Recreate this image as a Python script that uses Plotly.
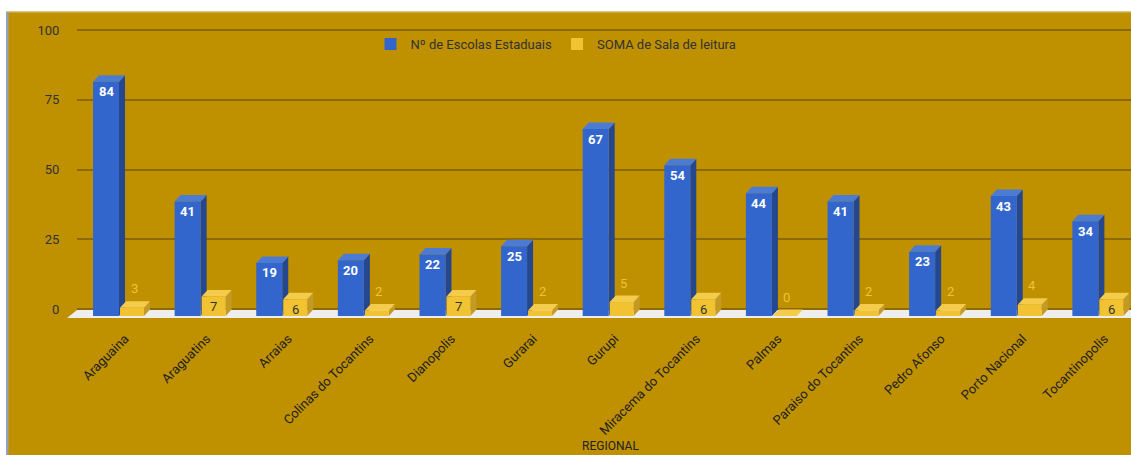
import plotly.graph_objects as go

# ---------------- data ----------------
regionais = ["Araguaina", "Araguatins", "Arraias", "Colinas do Tocantins", "Dianopolis",
             "Gurarai", "Gurupi", "Miracema do Tocantins", "Palmas", "Paraiso do Tocantins",
             "Pedro Afonso", "Porto Nacional", "Tocantinopolis"]
escolas = [84, 41, 19, 20, 22, 25, 67, 54, 44, 41, 23, 43, 34]
salas = [3, 7, 6, 2, 7, 2, 5, 6, 0, 2, 2, 4, 6]
y_ticks = [0, 25, 50, 75, 100]
serie_escolas = "Nº de Escolas Estaduais"
serie_salas = "SOMA de Sala de leitura"

# ---------------- layout constants ----------------
W, H = 1131, 455
ML, MR, MT, MB = 77, 0, 12, 135
PW, PH = W - ML - MR, H - MT - MB
x_range = [-0.515, 12.4]
PXX = PW / (x_range[1] - x_range[0])
back_range = [-3.943, 106.45]
PXY = PH / (back_range[1] - back_range[0])
shift = 7 / PXY
front_range = [back_range[0] + shift, back_range[1] + shift]
DX = 6 / PXX
DY = 6.5 / PXY

BLUE, BLUE_TOP, BLUE_SIDE = "#3366CC", "#4C7BD4", "#24478F"
YEL, YEL_TOP, YEL_SIDE = "#F1C232", "#F4CB4A", "#C29A25"
GOLD = "#BF9000"
GRID = "#8C6A00"
TXT = "#333333"

b_off, b_w = -26 / PXX, 26 / PXX
y_off, y_w = 1 / PXX, 24 / PXX

xs = list(range(len(regionais)))

fig = go.Figure()
fig.add_trace(go.Bar(x=xs, y=escolas, name=serie_escolas, marker_color=BLUE,
                     marker_line_width=0, offset=b_off, width=b_w, yaxis="y",
                     hoverinfo="skip"))
fig.add_trace(go.Bar(x=xs, y=salas, name=serie_salas, marker_color=YEL,
                     marker_line_width=0, offset=y_off, width=y_w, yaxis="y",
                     hoverinfo="skip"))

shapes = []


def px2paper_x(p):
    return (p - ML) / PW


def px2paper_y(p):
    return (MT + PH - p) / PH


# floor
floor_pts = [(67, 318), (77, 310), (W + 20, 310), (W + 20, 318)]
path = "M " + " L ".join(f"{px2paper_x(a)},{px2paper_y(b)}" for a, b in floor_pts) + " Z"
shapes.append(dict(type="path", xref="paper", yref="paper", layer="below", path=path,
                   fillcolor="#EEEEEE", line_width=0))


def faces(xl, xr, v, top_col, side_col):
    out = []
    out.append(dict(type="path", xref="x", yref="y", layer="between",
                    path=f"M {xr},0 L {xr},{v} L {xr+DX},{v+DY} L {xr+DX},{DY} Z",
                    fillcolor=side_col, line_width=0))
    out.append(dict(type="path", xref="x", yref="y", layer="between",
                    path=f"M {xl},{v} L {xl+DX},{v+DY} L {xr+DX},{v+DY} L {xr},{v} Z",
                    fillcolor=top_col, line_width=0))
    return out


for i, v in zip(xs, escolas):
    shapes += faces(i + b_off, i + b_off + b_w, v, BLUE_TOP, BLUE_SIDE)
for i, v in zip(xs, salas):
    shapes += faces(i + y_off, i + y_off + y_w, v, YEL_TOP, YEL_SIDE)

# white frame strips
shapes.append(dict(type="rect", xref="paper", yref="paper", layer="above",
                   x0=px2paper_x(-5), x1=px2paper_x(W + 5), y0=px2paper_y(11.5), y1=px2paper_y(-5),
                   fillcolor="white", line_width=0))
shapes.append(dict(type="rect", xref="paper", yref="paper", layer="above",
                   x0=px2paper_x(-5), x1=px2paper_x(6), y0=px2paper_y(H + 5), y1=px2paper_y(-5),
                   fillcolor="white", line_width=0))
shapes.append(dict(type="rect", xref="paper", yref="paper", layer="above",
                   x0=px2paper_x(6), x1=px2paper_x(8.5), y0=px2paper_y(H + 5), y1=px2paper_y(12),
                   fillcolor="#8FA3BC", line_width=0))
shapes.append(dict(type="line", xref="paper", yref="paper", layer="above",
                   x0=px2paper_x(8), x1=px2paper_x(W + 5), y0=px2paper_y(12), y1=px2paper_y(12),
                   line=dict(color="#D6C27A", width=1)))

# value labels
annotations = []
for i, v in zip(xs, escolas):
    annotations.append(dict(x=i + b_off + b_w / 2, y=v, xref="x", yref="y", text=str(v),
                            showarrow=False, yshift=-10,
                            font=dict(family="Roboto", size=13, color="white", weight="bold")))
for i, v in zip(xs, salas):
    inside = v >= 6
    annotations.append(dict(x=i + y_off + y_w / 2 + (0 if inside else 2 / PXX), y=v, xref="x", yref="y",
                            text=str(v), showarrow=False, yshift=-10 if inside else 19,
                            font=dict(family="Roboto", size=13, color=TXT if inside else YEL)))
annotations.append(dict(x=px2paper_x(610), y=px2paper_y(446), xref="paper", yref="paper",
                        text="REGIONAL", showarrow=False, xanchor="center", yanchor="middle",
                        font=dict(family="Roboto", size=12, color="#222222")))

fig.update_layout(
    width=W, height=H,
    margin=dict(l=ML, r=MR, t=MT, b=MB, pad=0),
    paper_bgcolor=GOLD, plot_bgcolor="rgba(0,0,0,0)",
    barmode="overlay",
    font=dict(family="Roboto", size=13, color=TXT),
    showlegend=True,
    legend=dict(orientation="h", x=px2paper_x(556), xanchor="center",
                y=px2paper_y(44), yanchor="middle", bgcolor="rgba(0,0,0,0)",
                font=dict(family="Roboto", size=13, color=TXT), traceorder="normal"),
    xaxis=dict(range=x_range, tickmode="array", tickvals=xs, ticktext=regionais,
               tickangle=-45, showgrid=False, zeroline=False, showline=False,
               ticks="outside", ticklen=5, tickcolor="rgba(0,0,0,0)", ticklabelshift=6,
               tickfont=dict(family="Roboto", size=13, color="#222222")),
    yaxis=dict(range=front_range, visible=False, showgrid=False, zeroline=False),
    yaxis2=dict(range=back_range, overlaying="y", side="left", tickmode="array",
                tickvals=y_ticks, showgrid=True, gridcolor=GRID, gridwidth=1.6,
                zeroline=False, showline=False, ticks="outside", ticklen=14,
                tickcolor="rgba(0,0,0,0)",
                tickfont=dict(family="Roboto", size=13, color=TXT)),
    shapes=shapes,
    annotations=annotations,
)

# an invisible trace to activate yaxis2
fig.add_trace(go.Scatter(x=[None], y=[None], yaxis="y2", showlegend=False, hoverinfo="skip"))

fig.write_html("out.html")
